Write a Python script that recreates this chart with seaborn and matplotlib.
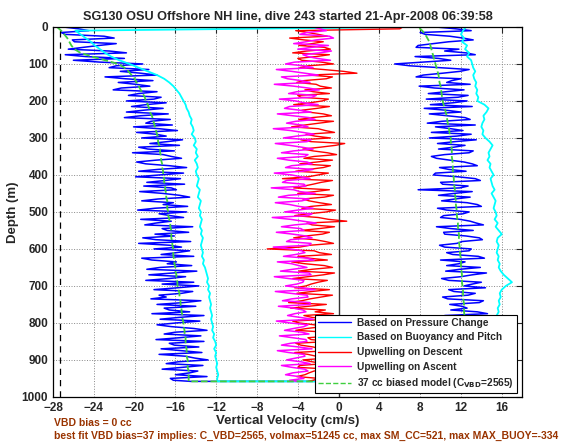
import numpy as np
import pandas as pd
import matplotlib
matplotlib.use("Agg")
import matplotlib.pyplot as plt
import seaborn as sns

# глубины (м): 0..950 через 10 м + точка разворота у дна; промежуточные 5..955
depth = list(range(0, 951, 10)) + [958]
depth_mid = list(range(5, 956, 10))

# погружение (descent)
blue_desc = [-27.0, -24.5, -26.8, -22.0, -25.9, -23.5, -26.5, -20.8, -24.8, -26.0,
             -19.2, -22.5, -21.4, -17.8, -20.9, -21.6, -18.5, -22.1, -19.6, -17.4,
             -20.8, -18.9, -17.2, -20.8, -19.4, -16.5, -18.9, -20.1, -15.8, -17.9,
             -19.3, -16.8, -15.6, -18.7, -20.2, -16.4, -17.9, -18.9, -14.9, -19.6,
             -17.5, -15.5, -18.8, -19.1, -15.9, -17.2, -14.6, -19.3, -17.2, -18.0,
             -14.9, -16.5, -19.4, -17.9, -14.3, -16.8, -18.0, -19.2, -14.5, -16.6,
             -18.1, -15.9, -14.2, -18.3, -16.8, -17.5, -13.9, -18.6, -16.6, -14.2,
             -13.7, -18.1, -15.4, -16.9, -13.5, -17.8, -17.1, -14.6, -13.2, -17.5,
             -15.9, -16.4, -12.9, -17.1, -15.6, -13.2, -16.1, -17.4, -13.4, -15.0,
             -12.8, -16.9, -15.3, -13.8, -16.0, -16.5, -14.5]
blue_desc_mid = [-25.5, -27.2, -23.0, -26.1, -21.8, -25.0, -22.5, -26.8, -21.0, -23.4,
                 -21.8, -18.6, -19.4, -22.9, -18.2, -19.9, -21.3, -17.8, -20.6, -18.1,
                 -16.9, -20.3, -19.1, -16.7, -21.0, -18.4, -16.3, -17.6, -19.8, -16.9,
                 -15.3, -18.5, -19.6, -16.1, -17.2, -15.4, -19.8, -16.6, -17.7, -15.2,
                 -19.9, -17.0, -15.1, -16.4, -19.5, -15.6, -17.7, -16.2, -14.8, -19.7,
                 -17.6, -15.2, -16.4, -19.0, -17.3, -14.7, -16.1, -17.9, -19.6, -15.4,
                 -14.6, -17.4, -19.3, -15.9, -14.4, -18.8, -16.3, -15.0, -18.9, -17.3,
                 -15.8, -14.3, -17.6, -18.4, -15.2, -14.0, -16.6, -18.3, -15.6, -13.6,
                 -17.8, -14.2, -16.0, -13.5, -17.9, -16.6, -13.7, -15.4, -17.6, -14.1,
                 -15.7, -13.3, -17.3, -14.6, -12.9, -16.2]
cyan_desc = [7.5, -25.8, -25.3, -24.8, -24.3, -23.9, -23.4, -22.9, -22.3, -21.5,
             -20.5, -19.6, -18.7, -17.8, -17.1, -16.6, -16.2, -15.9, -15.6, -15.4,
             -15.2, -15.0, -14.9, -14.7, -14.6, -14.4, -14.5, -14.3, -14.2, -14.4,
             -14.1, -14.0, -14.2, -13.9, -14.0, -13.8, -14.1, -13.9, -13.8, -14.0,
             -13.9, -13.7, -13.8, -13.9, -13.6, -13.7, -13.8, -13.5, -13.6, -13.7,
             -13.5, -13.6, -13.4, -13.5, -13.6, -13.4, -13.5, -13.3, -13.4, -13.5,
             -13.4, -13.3, -13.4, -13.2, -13.3, -13.1, -13.0, -12.9, -12.8, -12.9,
             -12.7, -12.8, -12.6, -12.7, -12.6, -12.5, -12.6, -12.5, -12.4, -12.5,
             -12.4, -12.3, -12.4, -12.2, -12.3, -12.1, -12.0, -12.2, -12.0, -12.1,
             -12.0, -11.9, -12.0, -11.9, -11.8, -11.9, -11.9]
green_desc = [-27.6, -27.2, -26.9, -26.6, -26.4, -26.2, -25.9, -25.3, -24.2, -22.9,
              -21.6, -21.0, -20.6, -20.3, -20.0, -19.8, -19.6, -19.4, -19.2, -19.0,
              -18.9, -18.7, -18.6, -18.5, -18.3, -18.2, -18.1, -18.0, -17.9, -17.8,
              -17.7, -17.7, -17.6, -17.5, -17.5, -17.4, -17.4, -17.3, -17.3, -17.2,
              -17.2, -17.1, -17.1, -17.0, -17.0, -16.9, -16.9, -16.8, -16.8, -16.8,
              -16.7, -16.7, -16.6, -16.5, -16.5, -16.4, -16.4, -16.4, -16.3, -16.3,
              -16.2, -16.2, -16.2, -16.1, -16.1, -16.0, -16.0, -15.9, -15.9, -15.8,
              -15.8, -15.7, -15.6, -15.6, -15.5, -15.5, -15.4, -15.4, -15.3, -15.3,
              -15.2, -15.2, -15.1, -15.1, -15.0, -15.0, -15.0, -14.9, -14.9, -14.9,
              -14.8, -14.8, -14.8, -14.7, -14.7, -14.7, -14.7]

# подъём (ascent), в порядке возрастания глубины
blue_asc = [9.5, 13.0, 8.5, 12.2, 10.8, 7.8, 11.8, 12.5, 7.5, 11.0,
            5.5, 9.9, 11.9, 8.3, 12.0, 10.6, 7.9, 12.3, 8.8, 11.7,
            12.6, 9.0, 8.4, 12.0, 10.7, 12.9, 8.7, 9.5, 12.2, 13.0,
            8.9, 11.4, 12.4, 9.8, 12.8, 9.1, 10.9, 13.1, 9.9, 12.5,
            9.3, 13.4, 10.0, 12.7, 7.8, 11.3, 12.9, 10.1, 13.6, 9.7,
            12.8, 10.3, 11.9, 13.5, 9.6, 13.2, 10.4, 13.8, 12.1, 9.9,
            13.0, 10.6, 13.7, 10.0, 11.8, 13.9, 10.5, 13.1, 10.1, 14.0,
            12.3, 10.8, 13.4, 10.2, 14.2, 10.9, 12.6, 13.6, 10.4, 14.1,
            11.0, 13.5, 10.5, 12.4, 14.3, 10.9, 13.8, 10.6, 14.4, 11.1,
            13.7, 12.2, 10.7, 14.0, 11.2, 13.6, 12.0]
blue_asc_mid = [11.5, 8.0, 10.9, 13.2, 9.3, 7.6, 10.4, 13.4, 9.8, 8.2,
                7.0, 12.8, 10.2, 7.6, 11.1, 12.9, 9.4, 10.6, 12.7, 8.6,
                11.2, 13.1, 10.5, 8.9, 12.4, 10.1, 13.4, 11.0, 9.1, 11.6,
                13.5, 9.7, 11.3, 13.2, 10.4, 9.6, 12.3, 13.6, 10.8, 9.5,
                11.7, 13.9, 10.2, 11.9, 13.1, 9.8, 11.4, 12.6, 14.0, 10.6,
                12.2, 10.0, 12.9, 14.2, 11.0, 10.3, 12.5, 14.1, 11.6, 10.4,
                12.8, 11.2, 14.3, 12.4, 10.6, 11.9, 14.5, 12.0, 10.8, 13.1,
                14.4, 11.3, 12.7, 10.7, 13.8, 12.1, 11.0, 14.6, 12.6, 11.4,
                13.3, 11.8, 14.7, 12.3, 11.2, 13.0, 14.6, 11.7, 12.9, 11.1,
                14.2, 12.5, 11.6, 13.9, 12.4, 11.8]
cyan_asc = [12.5, 12.2, 12.0, 12.3, 12.1, 12.6, 12.4, 12.8, 12.6, 13.0,
            13.1, 13.2, 13.4, 13.2, 13.3, 13.5, 13.4, 13.6, 13.5, 13.7,
            13.6, 14.3, 14.7, 14.5, 14.2, 14.3, 14.1, 14.0, 14.2, 14.1,
            14.4, 14.8, 15.1, 14.9, 14.7, 14.8, 14.6, 14.9, 14.8, 15.0,
            15.2, 14.9, 15.0, 15.1, 15.3, 15.0, 15.2, 15.4, 15.3, 15.2,
            15.4, 15.5, 15.3, 15.6, 15.4, 15.7, 16.0, 15.6, 15.5, 15.7,
            15.6, 15.5, 15.7, 15.6, 15.8, 15.7, 15.9, 16.2, 16.6, 17.0,
            16.4, 16.0, 15.8, 15.9, 15.7, 15.8, 15.6, 15.7, 15.5, 15.6,
            15.6, 15.5, 15.6, 15.4, 15.5, 15.4, 15.3, 15.4, 15.3, 15.2,
            15.3, 15.2, 15.1, 15.2, 15.0, 15.1, 15.0]
green_asc = [7.8, 8.2, 8.5, 8.7, 8.9, 9.0, 9.1, 9.2, 9.3, 9.4,
             9.5, 9.6, 9.7, 9.8, 9.85, 9.9, 10.0, 10.05, 10.1, 10.15,
             10.2, 10.3, 10.4, 10.5, 10.6, 10.65, 10.7, 10.8, 10.85, 10.9,
             11.0, 11.0, 11.05, 11.1, 11.1, 11.1, 11.15, 11.2, 11.2, 11.2,
             11.25, 11.3, 11.3, 11.35, 11.4, 11.4, 11.45, 11.5, 11.5, 11.55,
             11.6, 11.6, 11.65, 11.7, 11.7, 11.75, 11.8, 11.8, 11.8, 11.85,
             11.9, 11.9, 11.95, 12.0, 12.0, 12.0, 12.05, 12.1, 12.1, 12.1,
             12.15, 12.2, 12.2, 12.2, 12.25, 12.3, 12.3, 12.3, 12.35, 12.4,
             12.4, 12.4, 12.45, 12.5, 12.5, 12.5, 12.55, 12.6, 12.6, 12.6,
             12.65, 12.7, 12.7, 12.7, 12.75, 12.8, 12.8]

# вертикальные течения (upwelling)
red_desc = [6.3, -4.2, -2.0, -4.8, -1.5, -3.9, -0.8, -4.5, -2.2, -3.6,
            -0.5, -3.8, 0.5, -2.9, -1.2, -4.1, -1.8, -3.3, -0.9, -3.7,
            -1.6, -4.4, -2.1, -3.0, -0.7, -3.9, -1.9, -4.6, -1.3, -3.2,
            -0.8, -2.7, -0.3, -3.5, -1.1, -2.4, -0.6, -3.8, -1.5, -4.2,
            -2.0, -5.5, -1.7, -3.4, -0.9, -4.0, -1.4, -2.9, -0.7, -3.6,
            -1.2, -4.3, -1.0, -3.1, -0.4, -3.7, -1.6, -4.4, -1.3, -2.8,
            -7.0, -1.9, -4.0, -1.1, -3.3, -0.6, -3.9, -1.5, -4.5, -2.0,
            -3.2, -0.9, -4.1, -1.7, -3.6, -1.2, -4.7, -2.3, -3.4, -1.0,
            -3.9, -1.6, -4.2, -2.1, -3.0, -0.8, -3.7, -1.8, -4.3, -2.2,
            -3.5, -1.4, -4.0, -2.4, -3.3, -1.9, -3.0]
red_desc_mid = [6.0, -3.0, -1.1, -3.4, -2.6, -1.4, -3.1, -0.9, -4.0, -1.7,
                -3.0, -1.5, 1.8, -0.6, -3.4, -2.2, -0.7, -2.5, -4.0, -1.0,
                -2.8, -0.9, -3.6, -1.5, -2.6, -0.5, -3.3, -2.0, -0.4, -2.3,
                -3.7, 0.6, -1.8, -2.5, -0.2, -3.4, -2.1, -0.8, -2.9, -1.0,
                -3.0, -0.6, -2.5, -4.4, -2.3, -0.5, -3.5, -1.9, -2.7, -0.3,
                -3.0, -2.0, 0.8, -2.6, -1.9, -0.9, -3.2, -2.3, -0.5, -3.8,
                -2.4, -0.7, -2.9, -4.6, -1.4, -2.6, -0.4, -3.0, -1.1, -2.7,
                -4.3, -2.6, -0.6, -2.8, -4.9, -3.0, -1.3, -0.5, -2.6, -4.5,
                -2.4, -3.1, -1.2, -0.6, -2.7, -4.2, -2.5, -0.9, -3.0, -1.1,
                -2.6, -3.8, -0.9, -2.9, -4.1, -2.5]
magenta_asc = [-2.5, -1.2, -3.8, -0.5, -3.2, -1.0, -4.0, -1.8, -3.0, -0.8,
               -5.2, -2.5, -4.6, -2.0, -5.0, -2.8, -4.4, -1.9, -4.9, -2.6,
               -4.2, -2.0, -5.3, -2.7, -4.5, -2.3, -5.1, -3.0, -4.7, -2.4,
               -5.4, -3.1, -4.8, -2.5, -5.6, -3.3, -4.9, -2.6, -5.2, -3.5,
               -4.6, -2.8, -5.5, -3.2, -4.4, -2.3, -5.9, -3.6, -4.8, -2.5,
               -5.3, -3.0, -4.7, -2.2, -5.6, -3.4, -4.5, -2.6, -5.1, -2.9,
               -4.8, -3.3, -5.4, -2.4, -4.6, -3.1, -5.7, -2.7, -4.9, -3.5,
               -5.2, -2.3, -4.7, -3.0, -5.5, -2.8, -4.4, -3.2, -5.0, -2.5,
               -4.8, -3.4, -5.3, -2.9, -4.5, -3.1, -5.6, -2.6, -4.9, -3.3,
               -5.1, -2.8, -4.6, -3.0, -5.2, -3.4, -4.0]
magenta_asc_mid = [-1.8, -3.1, -0.9, -2.2, -4.4, -2.6, -0.7, -3.5, -2.1, -4.3,
                   -3.4, -6.1, -3.3, -5.6, -3.7, -6.3, -3.0, -4.1, -2.2, -5.8,
                   -3.4, -4.8, -3.8, -6.0, -2.9, -4.2, -3.6, -6.4, -3.5, -4.1,
                   -2.7, -6.2, -3.6, -4.4, -3.0, -6.0, -3.1, -4.6, -2.5, -6.3,
                   -3.7, -5.1, -3.4, -6.6, -3.8, -4.9, -2.9, -6.2, -3.9, -4.0,
                   -2.6, -6.5, -3.5, -4.3, -3.7, -6.1, -3.2, -4.7, -2.7, -6.4,
                   -3.6, -4.2, -3.0, -6.0, -3.9, -4.5, -2.9, -6.3, -3.4, -4.1,
                   -3.6, -6.2, -3.1, -4.6, -2.8, -5.9, -3.5, -4.3, -3.8, -6.1,
                   -3.0, -4.4, -3.6, -5.8, -3.2, -4.7, -3.9, -6.0, -3.4, -4.2,
                   -3.7, -5.6, -3.3, -4.5, -3.9, -4.8]

vbd_limit = -27.3
labels = ["Based on Pressure Change", "Based on Buoyancy and Pitch",
          "Upwelling on Descent", "Upwelling on Ascent",
          r"37 cc biased model (C$_{\mathbf{VBD}}$=2565)"]

sns.set_style("white")
plt.rcParams['font.family'] = ['Liberation Sans', 'DejaVu Sans']
plt.rcParams['font.weight'] = 'bold'
plt.rcParams['mathtext.default'] = 'bf'

fig = plt.figure(figsize=(5.68, 4.42), dpi=100)
ax = fig.add_axes([0.0933, 0.102, 0.826, 0.837])


def merged(main, mid=None):
    # отсчёты по глубине (основные + промежуточные), сверху вниз
    df = pd.DataFrame({"v": list(main), "z": depth})
    if mid is not None:
        df = pd.concat([df, pd.DataFrame({"v": list(mid), "z": depth_mid})])
    return df.sort_values("z").reset_index(drop=True)


def profile(desc, asc, desc_mid=None, asc_mid=None):
    # погружение сверху вниз, затем подъём снизу вверх
    down = merged(desc, desc_mid)
    up = merged(asc, asc_mid).iloc[::-1]
    return pd.concat([down, up], ignore_index=True)


kw = dict(x="v", y="z", sort=False, estimator=None, ax=ax)
sns.lineplot(data=profile(blue_desc, blue_asc, blue_desc_mid, blue_asc_mid),
             color="#0000ff", lw=1.1, label=labels[0], **kw)
sns.lineplot(data=profile(cyan_desc, cyan_asc), color="#00ffff", lw=1.3, label=labels[1], **kw)
sns.lineplot(data=merged(red_desc, red_desc_mid), color="#ff0000", lw=1.0, label=labels[2], **kw)
sns.lineplot(data=merged(magenta_asc, magenta_asc_mid).iloc[::-1], color="#ff00ff",
             lw=1.1, label=labels[3], **kw)
sns.lineplot(data=profile(green_desc, green_asc), color="#3fcf3f", lw=1.3, label=labels[4],
             linestyle="--", dashes=(4, 3), **kw)

ax.axvline(vbd_limit, color="black", lw=0.9, ls="--", dashes=(5, 4))
ax.axvline(0, color="#333333", lw=1.0)

ax.set_xlim(-28, 18)
ax.set_ylim(1000, 0)
ax.set_xticks(range(-28, 17, 4))
ax.set_yticks(range(0, 1001, 100))
ax.grid(True, ls=":", color="#888888", lw=0.7)
ax.tick_params(direction="in", top=True, right=True, length=4, labelsize=8.5, width=0.8)
for s in ax.spines.values():
    s.set_color("black")
    s.set_linewidth(0.9)

ax.set_xlabel("Vertical Velocity (cm/s)", fontsize=9.5, fontweight="bold", labelpad=1)
ax.set_ylabel("Depth (m)", fontsize=9.5, fontweight="bold", labelpad=2)
ax.set_title("SG130 OSU Offshore NH line, dive 243 started 21-Apr-2008 06:39:58",
             fontsize=9.2, fontweight="bold", pad=5)

leg = ax.legend(loc="lower right", bbox_to_anchor=(0.988, 0.01), borderaxespad=0,
                fontsize=7.3, frameon=True, fancybox=False, handlelength=3.2,
                labelspacing=0.45, borderpad=0.3, handletextpad=0.6)
leg.get_frame().set_edgecolor("black")
leg.get_frame().set_linewidth(0.8)
leg.get_frame().set_alpha(1)
for h in leg.get_lines():
    h.set_linewidth(1.0)

fig.text(0.095, 0.036, "VBD bias = 0 cc", color="#993300", fontsize=7.45, fontweight="bold")
fig.text(0.095, 0.006, "best fit VBD bias=37 implies: C_VBD=2565, volmax=51245 cc, "
         "max SM_CC=521, max MAX_BUOY=-334", color="#993300", fontsize=7.45, fontweight="bold")

fig.savefig("out.png", dpi=100)
